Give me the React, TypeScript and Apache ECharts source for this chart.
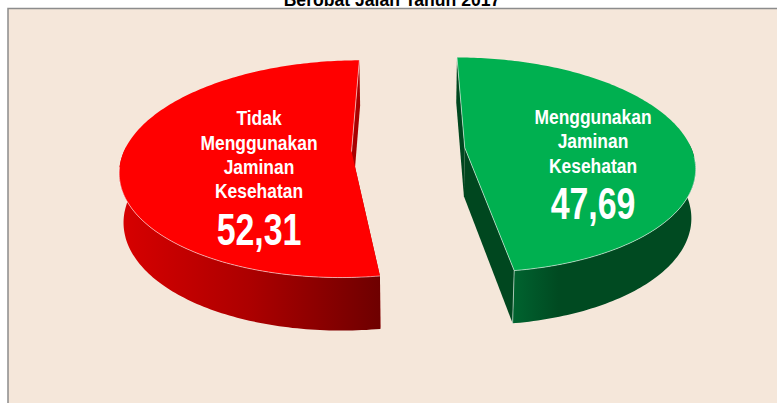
import React, { useEffect, useRef } from "react";
import * as echarts from "echarts";

const categories = ["Menggunakan\nJaminan\nKesehatan", "Tidak\nMenggunakan\nJaminan\nKesehatan"];
const values = [47.69, 52.31];
const chartTitle = "Berobat Jalan Tahun 2017";

const FONT = '"Liberation Sans", Arial, sans-serif';
const VP = { x: 408.3, y: 149.6, rx: 227, ry: 105.2, k: 0.16, explode: 0.25, depth: 48.5, shrink: 0.985 };
const total = values.reduce((a, b) => a + b, 0);

function project(U: number, V: number) {
  const w = 1 - VP.k * V;
  return { x: VP.x + (VP.rx * U) / w, y: VP.y + (VP.ry * V) / w, w };
}
function lower(U: number, V: number) {
  const p = project(U, V);
  return { x: VP.x + VP.shrink * (p.x - VP.x), y: p.y + VP.depth / Math.sqrt(p.w) };
}

const sliceStyles = [
  {
    top: "#00b050",
    radial: "#00471f",
    wall: [
      [0, "#00642f"], [0.1, "#00592a"], [0.25, "#004a21"], [1, "#004a21"],
    ],
    labelX: 593,
    labelY: [117, 141, 166],
    numberY: 203,
    rimFrom: 95,
  },
  {
    top: "#ff0000",
    radial: "#a80000",
    wall: [
      [0, "#d80000"], [0.5, "#ac0000"], [1, "#6e0000"],
    ],
    labelX: 259,
    labelY: [118, 143, 167, 191],
    numberY: 229,
    rimFrom: 262,
  },
];

function renderSlice(params: any, api: any) {
  const i = params.dataIndex;
  const value = api.value(0);
  const st = sliceStyles[i];
  const before = values.slice(0, i).reduce((a, b) => a + b, 0);
  const a0 = (before / total) * 360;
  const a1 = ((before + value) / total) * 360;
  const mid = ((a0 + a1) / 2) * (Math.PI / 180);
  const ox = VP.explode * Math.sin(mid);
  const oy = -VP.explode * Math.cos(mid);
  const world = (deg: number, r = 1): [number, number] => {
    const t = (deg * Math.PI) / 180;
    return [ox + r * Math.sin(t), oy - r * Math.cos(t)];
  };
  const pt = (w: [number, number]) => { const p = project(w[0], w[1]); return [p.x, p.y]; };
  const lo = (w: [number, number]) => { const p = lower(w[0], w[1]); return [p.x, p.y]; };

  const arc: [number, number][] = [];
  for (let d = a0; d < a1; d += 1) arc.push(world(d));
  arc.push(world(a1));
  const apex: [number, number] = [ox, oy];
  const startEdge = world(a0);
  const endEdge = world(a1);

  const topPoly = [pt(apex), ...arc.map(pt)];
  const frontArc = arc.filter((w) => w[1] > oy - 0.05);
  const wallPoly = [...frontArc.map(pt), ...frontArc.slice().reverse().map(lo)];

  const radialWall = (edge: [number, number]) => ({
    type: "polygon",
    silent: true,
    shape: { points: [pt(apex), pt(edge), lo(edge), lo(apex)] },
    style: { fill: st.radial },
  });

  const rimDeg = arc.filter((_, n) => {
    const d = a0 + n;
    return i === 0 ? d >= st.rimFrom : d <= st.rimFrom;
  });

  const children: any[] = [
    radialWall(startEdge),
    radialWall(endEdge),
    {
      type: "polygon",
      silent: true,
      shape: { points: wallPoly },
      style: {
        fill: new echarts.graphic.LinearGradient(0, 0, 1, 0,
          st.wall.map(([offset, color]) => ({ offset: offset as number, color: color as string }))),
      },
    },
    { type: "polygon", silent: true, shape: { points: topPoly }, style: { fill: st.top } },
    {
      type: "polyline",
      silent: true,
      shape: { points: rimDeg.map(pt) },
      style: { fill: "none", stroke: "rgba(255,255,255,0.55)", lineWidth: 1 },
    },
    {
      type: "polyline",
      silent: true,
      shape: { points: i === 1 ? [pt(endEdge), pt(apex)] : [pt(startEdge), pt(apex), pt(endEdge), lo(endEdge)] },
      style: { fill: "none", stroke: "rgba(255,255,255,0.55)", lineWidth: 1 },
    },
  ];

  categories[i].split("\n").forEach((line, n) => {
    children.push({
      type: "text",
      silent: true,
      x: st.labelX,
      y: st.labelY[n],
      scaleX: 0.83,
      style: { text: line, fill: "#ffffff", font: `bold 21px ${FONT}`, align: "center", verticalAlign: "middle" },
    });
  });
  children.push({
    type: "text",
    silent: true,
    x: st.labelX,
    y: st.numberY,
    scaleX: 0.77,
    style: {
      text: value.toFixed(2).replace(".", ","),
      fill: "#ffffff",
      font: `bold 44px ${FONT}`,
      align: "center",
      verticalAlign: "middle",
    },
  });
  return { type: "group", children };
}

export default function App() {
  const ref = useRef<HTMLDivElement>(null);
  useEffect(() => {
    const chart = echarts.init(ref.current!, undefined, { renderer: "svg" });
    chart.setOption({
      animation: false,
      backgroundColor: "#ffffff",
      graphic: {
        elements: [
          {
            type: "text",
            z: -12,
            silent: true,
            x: 392,
            y: 9,
            style: {
              text: chartTitle,
              fill: "#000000",
              font: 'bold 17.6px "Liberation Sans", Arial, sans-serif',
              align: "center",
              verticalAlign: "bottom",
            },
          },
          {
            type: "rect",
            z: -10,
            silent: true,
            shape: { x: 8, y: 8.5, width: 780, height: 410 },
            style: { fill: "#f5e7da", stroke: "#8c8c8c", lineWidth: 1.5 },
          },
        ],
      },
      series: [
        {
          type: "custom",
          coordinateSystem: "none",
          renderItem: renderSlice,
          clip: false,
          z: 5,
          data: values.map((v, i) => ({ name: categories[i], value: [v] })),
        },
      ],
    });
    return () => chart.dispose();
  }, []);
  return <div ref={ref} style={{ position: "absolute", left: 0, top: 0, width: 777, height: 403 }} />;
}
